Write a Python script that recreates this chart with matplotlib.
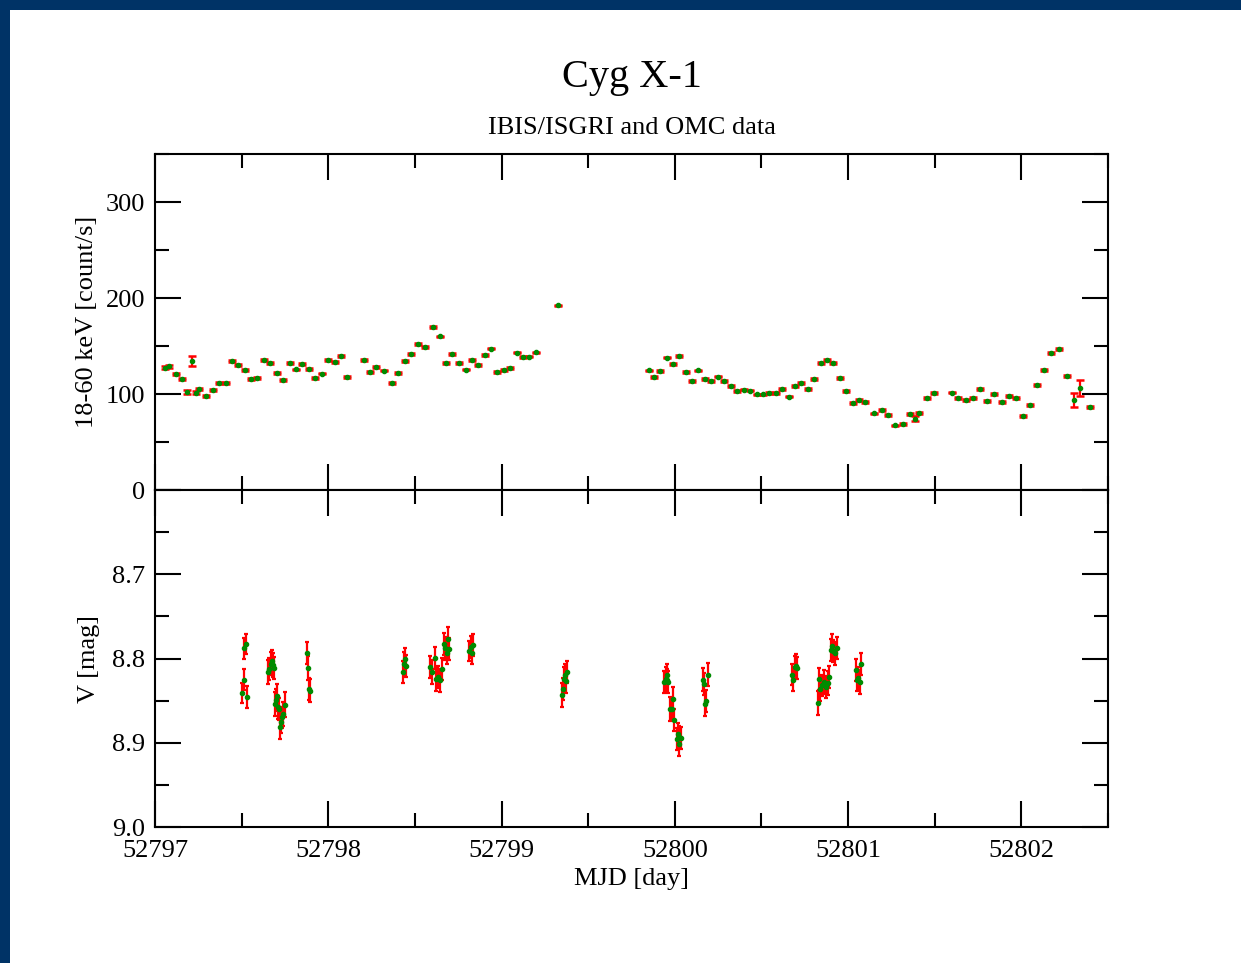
import matplotlib
matplotlib.use("Agg")
import matplotlib.pyplot as plt
from matplotlib.ticker import MultipleLocator, FuncFormatter
from matplotlib.patches import Rectangle

plt.rcParams['font.family'] = ['Liberation Serif', 'DejaVu Serif']

# ---------------- Data ----------------
# IBIS/ISGRI 18-60 keV light curve
isgri_mjd = [52797.058, 52797.083, 52797.121, 52797.158, 52797.186, 52797.214, 52797.235,
             52797.256, 52797.296, 52797.333, 52797.369, 52797.408, 52797.446, 52797.481,
             52797.519, 52797.556, 52797.590, 52797.629, 52797.665, 52797.704, 52797.740,
             52797.777, 52797.814, 52797.850, 52797.887, 52797.925, 52797.962, 52797.998,
             52798.037, 52798.073, 52798.110, 52798.204, 52798.241, 52798.277, 52798.323,
             52798.368, 52798.404, 52798.440, 52798.477, 52798.516, 52798.560, 52798.606,
             52798.643, 52798.679, 52798.716, 52798.754, 52798.793, 52798.827, 52798.866,
             52798.902, 52798.941, 52798.975, 52799.014, 52799.050, 52799.087, 52799.124,
             52799.160, 52799.198, 52799.325,
             52799.849, 52799.881, 52799.916, 52799.953, 52799.989, 52800.025, 52800.062,
             52800.100, 52800.135, 52800.175, 52800.210, 52800.249, 52800.285, 52800.324,
             52800.358, 52800.397, 52800.433, 52800.474, 52800.508, 52800.545, 52800.582,
             52800.618, 52800.657, 52800.693, 52800.729, 52800.766, 52800.804, 52800.841,
             52800.878, 52800.914, 52800.953, 52800.989, 52801.026, 52801.062, 52801.099,
             52801.147, 52801.193, 52801.232, 52801.268, 52801.315, 52801.358, 52801.387,
             52801.410, 52801.453, 52801.495, 52801.597, 52801.636, 52801.680, 52801.720,
             52801.762, 52801.803, 52801.843, 52801.886, 52801.926, 52801.967, 52802.007,
             52802.049, 52802.089, 52802.132, 52802.172, 52802.218, 52802.264, 52802.305,
             52802.337, 52802.399]
isgri_rate = [127.4, 128.8, 120.8, 115.6, 102.0, 134.4, 101.4,
              105.2, 97.9, 104.2, 111.8, 111.8, 134.7, 130.6,
              125.0, 115.3, 116.7, 135.4, 132.6, 121.9, 114.6,
              131.9, 125.7, 131.3, 126.0, 117.0, 121.2, 135.8,
              133.3, 139.9, 117.7, 135.4, 122.9, 128.1, 124.3,
              111.1, 121.9, 134.7, 141.3, 152.0, 149.0, 169.4,
              160.0, 131.9, 141.7, 132.3, 125.3, 135.1, 130.6,
              140.6, 147.2, 122.6, 124.7, 127.1, 143.0, 138.2,
              138.9, 143.4, 192.4,
              124.7, 117.7, 123.6, 137.8, 131.2, 139.6, 122.6,
              113.2, 124.7, 115.6, 113.5, 118.0, 113.2, 108.3,
              103.1, 104.5, 103.5, 99.7, 99.7, 101.4, 101.4,
              104.9, 97.2, 108.3, 111.8, 105.2, 115.3, 132.3,
              135.1, 131.9, 116.7, 103.1, 90.3, 93.7, 91.3,
              79.9, 83.3, 77.8, 67.4, 68.8, 79.5, 74.3,
              80.5, 95.8, 101.4, 101.4, 95.5, 93.7, 95.5,
              105.2, 93.0, 100.0, 92.0, 97.9, 96.2, 76.7,
              88.2, 109.4, 125.0, 142.4, 146.5, 118.7, 94.1,
              106.6, 86.5]
isgri_err = [1.5, 1.2, 1.0, 1.0, 2.4, 5.7, 1.8,
             1.2, 1.0, 0.8, 1.0, 1.0, 1.0, 1.0,
             0.8, 1.0, 0.8, 1.0, 1.0, 0.8, 0.8,
             1.0, 0.8, 1.0, 1.0, 1.0, 0.8, 1.0,
             1.0, 1.0, 0.8, 1.0, 1.0, 1.0, 0.8,
             1.0, 1.0, 1.0, 1.0, 0.8, 1.0, 1.0,
             0.8, 1.0, 1.0, 0.8, 0.8, 1.0, 1.0,
             0.8, 0.8, 1.0, 1.0, 1.0, 0.8, 1.0,
             0.8, 0.8, 0.8,
             0.8, 1.0, 1.0, 0.8, 1.0, 0.8, 1.0,
             1.0, 0.8, 1.0, 1.0, 0.8, 1.0, 1.0,
             1.0, 0.8, 0.8, 0.8, 0.8, 1.0, 1.0,
             1.0, 0.8, 1.0, 1.0, 1.0, 1.0, 1.0,
             1.0, 1.0, 1.0, 0.8, 1.0, 1.0, 1.0,
             0.8, 0.8, 1.0, 0.8, 0.8, 1.0, 2.8,
             1.0, 1.0, 1.0, 0.8, 1.0, 1.0, 1.0,
             1.0, 1.0, 1.0, 1.0, 1.0, 1.0, 1.0,
             1.0, 0.8, 1.0, 1.0, 1.0, 1.5, 7.3,
             8.5, 1.0]

# OMC V-band light curve
omc_mjd = [52797.504, 52797.512, 52797.515, 52797.525, 52797.531,
           52797.652, 52797.660, 52797.667, 52797.673, 52797.680, 52797.687,
           52797.692, 52797.697, 52797.704, 52797.710, 52797.717, 52797.722,
           52797.727, 52797.733, 52797.740, 52797.748,
           52797.875, 52797.881, 52797.891, 52797.895,
           52798.431, 52798.439, 52798.444, 52798.450,
           52798.589, 52798.600, 52798.614, 52798.619, 52798.635, 52798.644, 52798.658,
           52798.668, 52798.675, 52798.685, 52798.692, 52798.698,
           52798.815, 52798.823, 52798.832, 52798.838,
           52799.347, 52799.353, 52799.359, 52799.367, 52799.373, 52799.377,
           52799.938, 52799.948, 52799.952, 52799.957, 52799.963,
           52799.972, 52799.981, 52799.991, 52799.997,
           52800.012, 52800.020, 52800.024, 52800.027, 52800.035,
           52800.162, 52800.167, 52800.176, 52800.181, 52800.189,
           52800.676, 52800.683, 52800.693, 52800.700, 52800.707,
           52800.827, 52800.834, 52800.840, 52800.848, 52800.860, 52800.874,
           52800.883, 52800.891,
           52800.901, 52800.908, 52800.914, 52800.924, 52800.934,
           52801.045, 52801.053, 52801.060, 52801.068, 52801.076]
omc_v = [8.841, 8.825, 8.788, 8.783, 8.846,
         8.816, 8.812, 8.806, 8.803, 8.808, 8.811,
         8.854, 8.849, 8.844, 8.858, 8.860, 8.881,
         8.875, 8.870, 8.866, 8.855,
         8.794, 8.811, 8.836, 8.838,
         8.816, 8.806, 8.800, 8.809,
         8.810, 8.816, 8.799, 8.824, 8.822, 8.826, 8.812,
         8.783, 8.788, 8.793, 8.777, 8.789,
         8.791, 8.786, 8.794, 8.784,
         8.843, 8.836, 8.824, 8.820, 8.827, 8.816,
         8.828, 8.824, 8.826, 8.820, 8.828,
         8.860, 8.860, 8.848, 8.873,
         8.896, 8.890, 8.893, 8.902, 8.894,
         8.825, 8.830, 8.854, 8.850, 8.819,
         8.819, 8.825, 8.810, 8.809, 8.811,
         8.853, 8.824, 8.836, 8.832, 8.828, 8.834,
         8.829, 8.822,
         8.790, 8.785, 8.791, 8.794, 8.788,
         8.814, 8.825, 8.823, 8.828, 8.806]
omc_err = [0.012, 0.012, 0.012, 0.012, 0.013,
           0.014, 0.013, 0.014, 0.013, 0.014, 0.013,
           0.014, 0.013, 0.014, 0.014, 0.013, 0.014,
           0.014, 0.013, 0.014, 0.015,
           0.013, 0.014, 0.013, 0.014,
           0.013, 0.014, 0.013, 0.013,
           0.013, 0.014, 0.013, 0.014, 0.013, 0.014, 0.013,
           0.013, 0.014, 0.013, 0.014, 0.013,
           0.012, 0.013, 0.012, 0.013,
           0.014, 0.013, 0.014, 0.013, 0.014, 0.013,
           0.013, 0.014, 0.013, 0.014, 0.013,
           0.014, 0.013, 0.014, 0.013,
           0.013, 0.014, 0.013, 0.014, 0.013,
           0.014, 0.013, 0.014, 0.013, 0.014,
           0.013, 0.014, 0.013, 0.014, 0.013,
           0.014, 0.013, 0.014, 0.013, 0.014, 0.013,
           0.014, 0.013,
           0.013, 0.014, 0.013, 0.014, 0.013,
           0.013, 0.014, 0.013, 0.014, 0.013]

title = "Cyg X-1"
subtitle = "IBIS/ISGRI and OMC data"
xlabel = "MJD [day]"
ylabel_top = "18-60 keV [count/s]"
ylabel_bot = "V [mag]"

# ---------------- Figure ----------------
W, H = 1241, 963
fig = plt.figure(figsize=(W / 100, H / 100), dpi=100)
fig.patch.set_facecolor('white')
border = '#003366'
fig.add_artist(Rectangle((0, 1 - 10 / H), 1, 10 / H, transform=fig.transFigure,
                         facecolor=border, edgecolor='none'))
fig.add_artist(Rectangle((0, 0), 10 / W, 1, transform=fig.transFigure,
                         facecolor=border, edgecolor='none'))

left = 155 / W
width = (1108 - 155) / W
ax1 = fig.add_axes([left, 1 - 490 / H, width, (490 - 154) / H])
ax2 = fig.add_axes([left, 1 - 827 / H, width, (827 - 490) / H], sharex=ax1)

err_red = '#ff0000'
mk_green = '#008b00'
FS = 19

ax1.errorbar(isgri_mjd, isgri_rate, yerr=isgri_err, fmt='none', ecolor=err_red,
             elinewidth=1.6, capsize=2.6, capthick=1.8, zorder=2)
ax1.plot(isgri_mjd, isgri_rate, linestyle='none', marker='o', ms=3.0,
         color=mk_green, mec=mk_green, zorder=3)

ax2.errorbar(omc_mjd, omc_v, yerr=omc_err, fmt='none', ecolor=err_red,
             elinewidth=1.6, capsize=1.6, capthick=1.6, zorder=2)
ax2.plot(omc_mjd, omc_v, linestyle='none', marker='o', ms=3.0,
         color=mk_green, mec=mk_green, zorder=3)

ax1.set_xlim(52797, 52802.5)
ax1.set_ylim(0, 350)
ax2.set_ylim(9.0, 8.6)

ax1.xaxis.set_major_locator(MultipleLocator(1))
ax1.xaxis.set_minor_locator(MultipleLocator(0.5))
ax1.yaxis.set_major_locator(MultipleLocator(100))
ax1.yaxis.set_minor_locator(MultipleLocator(50))
ax2.yaxis.set_major_locator(MultipleLocator(0.1))
ax2.yaxis.set_minor_locator(MultipleLocator(0.05))

ax2.xaxis.set_major_formatter(FuncFormatter(lambda v, p: "%d" % round(v)))
ax1.yaxis.set_major_formatter(FuncFormatter(lambda v, p: "" if v > 300 else "%d" % round(v)))
ax2.yaxis.set_major_formatter(FuncFormatter(lambda v, p: "" if v < 8.65 else "%.1f" % v))

for ax in (ax1, ax2):
    for s in ax.spines.values():
        s.set_linewidth(1.5)
        s.set_color('black')
    ax.tick_params(which='both', direction='in', top=True, right=True,
                   width=1.5, color='black', labelsize=FS)
    ax.tick_params(which='major', length=19, pad=7)
    ax.tick_params(which='minor', length=10)
    ax.set_facecolor('white')

ax1.tick_params(axis='x', labelbottom=False)
ax2.tick_params(axis='x', pad=9)

ax1.set_ylabel(ylabel_top, fontsize=FS)
ax2.set_ylabel(ylabel_bot, fontsize=FS)
ax2.set_xlabel(xlabel, fontsize=FS, labelpad=5)
ax1.yaxis.set_label_coords(-0.060, 0.5)
ax2.yaxis.set_label_coords(-0.058, 0.5)

fig.text(632 / W, 1 - 77 / H, title, ha='center', va='center', fontsize=29)
fig.text(632 / W, 1 - 128 / H, subtitle, ha='center', va='center', fontsize=19)

fig.savefig("out.png", dpi=100, facecolor='white')
